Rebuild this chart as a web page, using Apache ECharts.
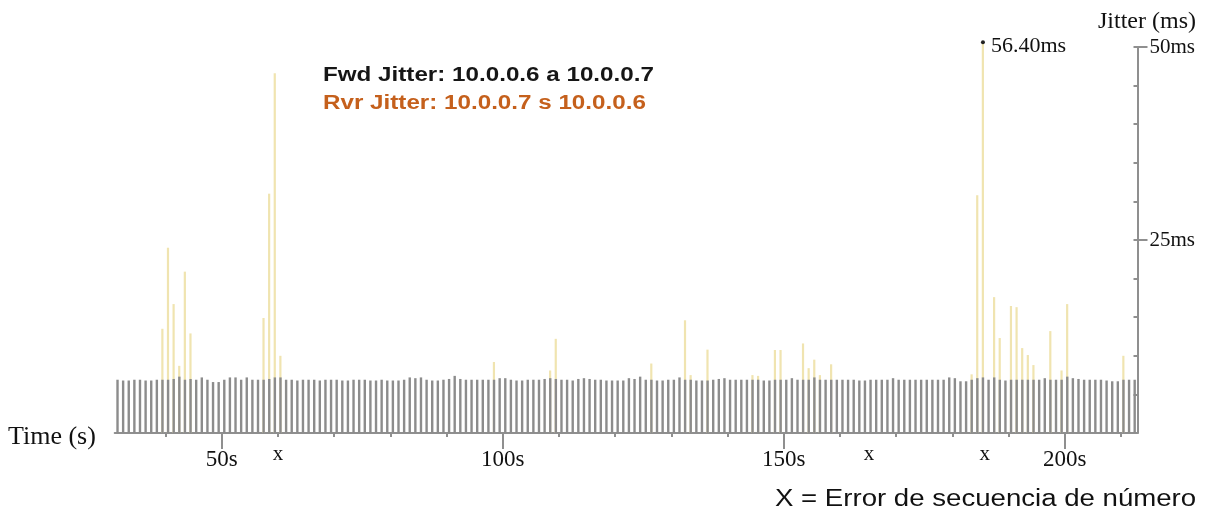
<!DOCTYPE html>
<html>
<head>
<meta charset="utf-8">
<script src="https://cdn.jsdelivr.net/npm/echarts@6.0.0/dist/echarts.min.js"></script>
<style>
  html, body { margin: 0; padding: 0; background: #ffffff; }
  #chart { width: 1212px; height: 517px; }
</style>
</head>
<body>
<div id="chart"></div>
<script>
// ---------------- DATA ----------------
const FIRST_SECOND = 31;
// Forward jitter (gray bars), one value per second from 31 s to 212 s (ms)
const fwdJitter = [
  6.9, 6.8, 6.8, 6.9, 6.9, 6.8, 6.8, 6.9, 6.9, 6.9,
  7.0, 7.3, 6.9, 7.0, 6.9, 7.2, 6.9, 6.6, 6.6, 6.9,
  7.2, 7.2, 6.9, 7.2, 6.9, 6.9, 6.9, 7.0, 7.2, 7.2,
  6.9, 6.9, 6.8, 6.9, 6.9, 6.9, 6.8, 6.9, 6.9, 6.9,
  6.8, 6.8, 6.9, 6.9, 6.9, 6.8, 6.8, 6.9, 6.8, 6.8,
  6.8, 6.9, 7.2, 7.1, 7.2, 6.9, 6.8, 6.8, 6.9, 7.0,
  7.4, 7.0, 6.9, 6.9, 6.9, 6.9, 6.9, 6.9, 7.1, 7.1,
  6.9, 6.8, 6.8, 6.9, 6.9, 6.9, 7.0, 7.1, 7.0, 6.9,
  6.9, 6.8, 7.0, 7.1, 7.0, 6.9, 6.9, 6.8, 6.8, 6.8,
  6.8, 7.1, 7.0, 7.3, 6.9, 6.9, 6.8, 6.8, 6.9, 6.9,
  7.2, 6.9, 6.9, 6.8, 6.8, 6.8, 6.9, 7.0, 7.1, 6.9,
  6.9, 6.9, 6.9, 6.9, 6.9, 6.8, 6.8, 6.9, 6.9, 6.9,
  7.1, 6.9, 6.9, 6.9, 7.2, 6.9, 6.9, 6.9, 6.9, 6.9,
  6.9, 6.9, 6.8, 6.8, 6.9, 6.9, 6.9, 6.9, 7.1, 6.9,
  6.9, 6.9, 6.9, 6.9, 6.9, 6.9, 6.9, 6.9, 7.2, 7.1,
  6.7, 6.7, 6.9, 7.1, 7.2, 6.9, 7.2, 6.9, 6.8, 6.9,
  6.9, 6.9, 6.9, 6.9, 6.9, 7.1, 6.9, 6.9, 6.9, 7.3,
  7.1, 7.0, 6.9, 6.9, 6.9, 6.9, 6.8, 6.7, 6.7, 6.9,
  6.9, 6.9
];
// Reverse jitter (pale yellow bars): seconds where it shows above the forward bar, and values (ms)
const rvrSeconds = [39, 40, 41, 42, 43, 44, 57, 58, 59, 60, 98, 108, 109, 126, 132, 133, 136,
  144, 145, 148, 149, 153, 154, 155, 156, 158, 183, 184, 185, 187, 188, 190, 191, 192, 193,
  194, 197, 199, 200, 210];
const rvrValues = [13.5, 24.0, 16.7, 8.7, 20.9, 12.9, 14.9, 31.0, 46.6, 10.0, 9.2, 8.1, 12.2,
  9.0, 14.6, 7.5, 10.8, 7.5, 7.4, 10.75, 10.75, 11.6, 8.4, 9.5, 7.5, 8.9, 7.6, 30.8, 56.4,
  17.6, 12.3, 16.45, 16.3, 11.0, 10.1, 8.8, 13.2, 8.1, 16.7, 10.0];
// Sequence-number errors marked with "x" under the time axis (s)
const seqErrorTimes = [60, 165.2, 185.8];
// Axis ticks / labels
const minorTickTimes = [40, 50, 60, 70, 80, 90, 100, 110, 120, 130, 140, 150, 160, 170, 180, 190, 200, 210];
const majorTickTimes = [50, 100, 150, 200];
const yLabelValues = [25, 50];

// ---------------- LAYOUT CONSTANTS ----------------
const Y_MAX = 50;          // top of the jitter axis (ms)
const CLIP_MS = 50.6;      // bars taller than this are cut off here
const TIME_MIN = 30.96;    // time-axis extent aligned with the one-second bar slots
const TIME_MAX = 212.96;
const SERIF = '"Liberation Serif", "Times New Roman", serif';
const SANS = '"Liberation Sans", Arial, sans-serif';
const AXIS_GRAY = '#8f8f8f';

// ---------------- BUILD ----------------
const seconds = fwdJitter.map((_, i) => String(FIRST_SECOND + i));
const rvrFull = seconds.map(() => '-');
rvrSeconds.forEach((s, i) => { rvrFull[s - FIRST_SECOND] = Math.min(rvrValues[i], CLIP_MS); });
let peakI = 0;
rvrValues.forEach((v, i) => { if (v > rvrValues[peakI]) peakI = i; });
const peakSecond = String(rvrSeconds[peakI]);
const peakValue = rvrValues[peakI];

const chart = echarts.init(document.getElementById('chart'), null, { renderer: 'canvas' });

const timeAxisBase = {
  type: 'value', min: TIME_MIN, max: TIME_MAX, position: 'bottom',
  axisLine: { show: false }, splitLine: { show: false }
};

const option = {
  animation: false,
  backgroundColor: '#ffffff',
  grid: { left: 114.7, right: 74.5, top: 47, bottom: 84, containLabel: false },
  xAxis: [
    {
      type: 'category', data: seconds, boundaryGap: true, position: 'bottom',
      axisLine: { show: true, lineStyle: { color: AXIS_GRAY, width: 2 } },
      axisTick: { show: false }, axisLabel: { show: false }, splitLine: { show: false }
    },
    Object.assign({}, timeAxisBase, {
      axisTick: { show: true, length: 4, customValues: minorTickTimes, lineStyle: { color: AXIS_GRAY, width: 2 } },
      axisLabel: { show: false }
    }),
    Object.assign({}, timeAxisBase, {
      axisTick: { show: true, length: 16, customValues: majorTickTimes, lineStyle: { color: AXIS_GRAY, width: 2 } },
      axisLabel: {
        show: true, customValues: majorTickTimes, formatter: v => v + 's', margin: 15,
        fontFamily: SERIF, fontSize: 23, color: '#111111'
      }
    }),
    Object.assign({}, timeAxisBase, {
      axisTick: { show: false },
      axisLabel: {
        show: true, customValues: seqErrorTimes, formatter: () => 'x', margin: 11,
        fontFamily: SERIF, fontSize: 21, color: '#111111'
      }
    })
  ],
  yAxis: [
    {
      type: 'value', min: 0, max: Y_MAX, interval: 5, position: 'right',
      axisLine: { show: true, lineStyle: { color: AXIS_GRAY, width: 2 } },
      axisTick: { show: true, inside: true, length: 4, lineStyle: { color: AXIS_GRAY, width: 2 } },
      axisLabel: { show: false }, splitLine: { show: false }
    },
    {
      type: 'value', min: 0, max: Y_MAX, position: 'right',
      axisLine: { show: false },
      axisTick: { show: true, length: 10, customValues: yLabelValues, lineStyle: { color: AXIS_GRAY, width: 2 } },
      axisLabel: {
        show: true, customValues: yLabelValues, formatter: v => v + 'ms', margin: 12,
        padding: [6, 0, 0, 0],
        fontFamily: SERIF, fontSize: 21, color: '#111111'
      },
      splitLine: { show: false }
    }
  ],
  series: [
    {
      name: 'Rvr Jitter', type: 'bar', xAxisIndex: 0, yAxisIndex: 0,
      data: rvrFull, barWidth: 2.2, barGap: '-100%', clip: false,
      itemStyle: { color: '#f0e4b0' }
    },
    {
      name: 'Fwd Jitter', type: 'bar', xAxisIndex: 0, yAxisIndex: 0,
      data: fwdJitter, barWidth: 2.4, barGap: '-100%', clip: false,
      itemStyle: { color: '#8c8c8c' }
    },
    {
      name: 'Peak', type: 'scatter', xAxisIndex: 0, yAxisIndex: 0, clip: false,
      symbol: 'circle', symbolSize: 4, z: 5,
      itemStyle: { color: '#222222', opacity: 1 },
      data: [{ value: [peakSecond, CLIP_MS], peak: peakValue }],
      label: {
        show: true, position: 'right', distance: 6, offset: [0, 4],
        formatter: () => peakValue.toFixed(2) + 'ms',
        fontFamily: SERIF, fontSize: 22, color: '#111111', opacity: 1
      }
    }
  ],
  graphic: [
    { type: 'text', x: 8, y: 437, style: { text: 'Time (s)', x: 0, y: 0, textVerticalAlign: 'middle', font: '26px ' + SERIF, fill: '#111111' } },
    { type: 'text', x: 1098, y: 22, style: { text: 'Jitter (ms)', x: 0, y: 0, textVerticalAlign: 'middle', font: '24px ' + SERIF, fill: '#111111' } },
    { type: 'text', x: 323, y: 75, scaleX: 1.21, style: { text: 'Fwd Jitter: 10.0.0.6 a 10.0.0.7', x: 0, y: 0, textVerticalAlign: 'middle', font: 'bold 20px ' + SANS, fill: '#161616' } },
    { type: 'text', x: 323, y: 103, scaleX: 1.21, style: { text: 'Rvr Jitter: 10.0.0.7 s 10.0.0.6', x: 0, y: 0, textVerticalAlign: 'middle', font: 'bold 20px ' + SANS, fill: '#c5601c' } },
    { type: 'text', x: 775, y: 500, scaleX: 1.2, style: { text: 'X = Error de secuencia de número', x: 0, y: 0, textVerticalAlign: 'middle', font: '23px ' + SANS, fill: '#111111' } }
  ]
};
chart.setOption(option);
</script>
</body>
</html>
